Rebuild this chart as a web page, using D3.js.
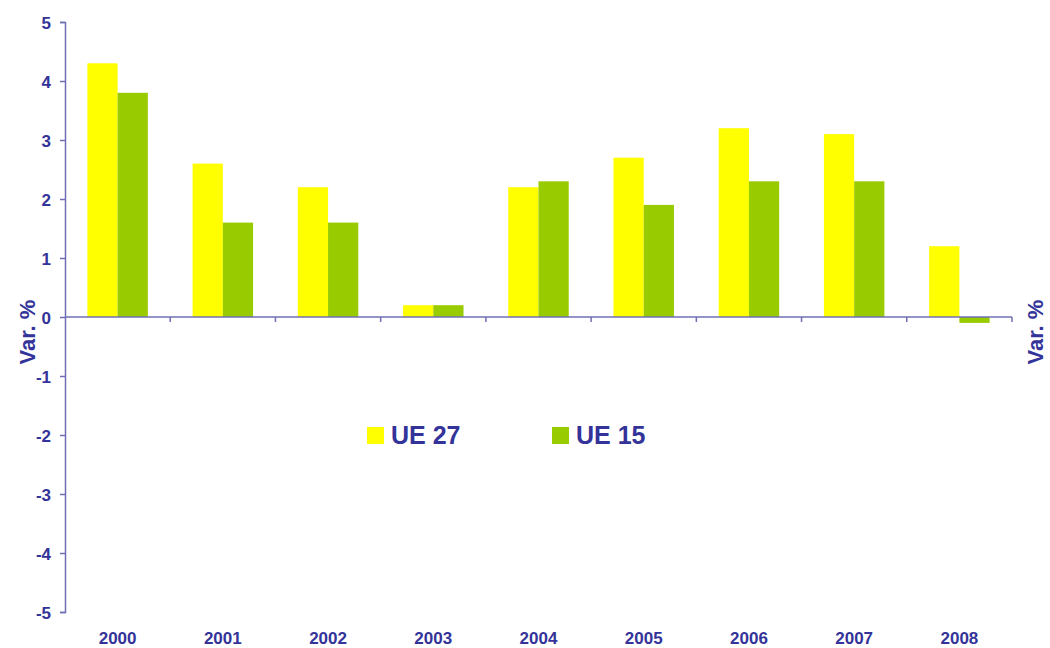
<!DOCTYPE html>
<html>
<head>
<meta charset="utf-8">
<script src="https://cdn.jsdelivr.net/npm/d3@7"></script>
<style>
  body { margin: 0; background: #fff; }
  text { font-family: "Liberation Sans", Arial, sans-serif; font-weight: bold; fill: #333399; }
</style>
</head>
<body>
<div id="chart"></div>
<script>
// chart data
const years = ['2000', '2001', '2002', '2003', '2004', '2005', '2006', '2007', '2008'];
const seriesNames = ['UE 27', 'UE 15'];
const ue27 = [4.3, 2.6, 2.2, 0.2, 2.2, 2.7, 3.2, 3.1, 1.2];
const ue15 = [3.8, 1.6, 1.6, 0.2, 2.3, 1.9, 2.3, 2.3, -0.1];
const yTicks = [-5, -4, -3, -2, -1, 0, 1, 2, 3, 4, 5];

const width = 1050, height = 648;
const margin = { left: 65, right: 38, top: 22, bottom: 36 };
const axisColor = '#6f6fb5';
const colors = { 'UE 27': '#ffff00', 'UE 15': '#99cc00' };

const svg = d3.select('#chart')
    .append('svg')
    .attr('width', width)
    .attr('height', height);

const x = d3.scaleBand()
    .domain(years)
    .range([margin.left, width - margin.right]);

// two bars side by side, centred in each year
const xInner = d3.scaleBand()
    .domain(seriesNames)
    .range([0, x.bandwidth()])
    .paddingOuter(0.74);

const y = d3.scaleLinear()
    .domain([-5, 5])
    .range([height - margin.bottom, margin.top]);

// bars
const rows = years.map((yr, i) => ({ year: yr, values: [
    { name: 'UE 27', v: ue27[i] },
    { name: 'UE 15', v: ue15[i] }
] }));

const groups = svg.selectAll('.year')
    .data(rows)
    .join('g')
    .attr('class', 'year')
    .attr('transform', d => `translate(${x(d.year)},0)`);

groups.selectAll('rect')
    .data(d => d.values)
    .join('rect')
    .attr('x', d => xInner(d.name))
    .attr('width', xInner.bandwidth())
    .attr('y', d => y(Math.max(0, d.v)))
    .attr('height', d => Math.abs(y(d.v) - y(0)))
    .attr('fill', d => colors[d.name]);

// y axis
const yAxis = svg.append('g')
    .attr('transform', `translate(${margin.left},0)`)
    .call(d3.axisLeft(y).tickValues(yTicks).tickSize(5).tickPadding(9).tickFormat(d => String(d)));
yAxis.select('.domain').attr('stroke', axisColor).attr('stroke-width', 1.5);
yAxis.selectAll('.tick line').attr('stroke', axisColor).attr('stroke-width', 1.5);
yAxis.selectAll('text').style('font-size', '17px').attr('dy', '0.36em');

// x axis at zero with ticks on category boundaries
const xAxis = svg.append('g')
    .attr('transform', `translate(0,${y(0)})`);
xAxis.append('line')
    .attr('x1', margin.left).attr('x2', width - margin.right)
    .attr('stroke', axisColor).attr('stroke-width', 1.5);
xAxis.selectAll('.xt')
    .data(years)
    .join('line')
    .attr('class', 'xt')
    .attr('x1', d => x(d) + x.bandwidth())
    .attr('x2', d => x(d) + x.bandwidth())
    .attr('y1', 0).attr('y2', 5)
    .attr('stroke', axisColor).attr('stroke-width', 1.5);

// category labels at the bottom
svg.selectAll('.xl')
    .data(years)
    .join('text')
    .attr('class', 'xl')
    .attr('x', d => x(d) + x.bandwidth() / 2)
    .attr('y', 644)
    .attr('text-anchor', 'middle')
    .style('font-size', '17px')
    .text(d => d);

// axis titles, both sides
[35, 1043].forEach(cx => {
    svg.append('text')
        .attr('transform', `translate(${cx},332) rotate(-90)`)
        .attr('text-anchor', 'middle')
        .style('font-size', '22px')
        .text('Var. %');
});

// legend
const legend = svg.append('g')
    .selectAll('g')
    .data(seriesNames)
    .join('g')
    .attr('transform', (d, i) => `translate(${367 + i * 185},427)`);
legend.append('rect')
    .attr('width', 17).attr('height', 17)
    .attr('fill', d => colors[d]);
legend.append('text')
    .attr('x', 24).attr('y', 17)
    .style('font-size', '25px')
    .text(d => d);
</script>
</body>
</html>
